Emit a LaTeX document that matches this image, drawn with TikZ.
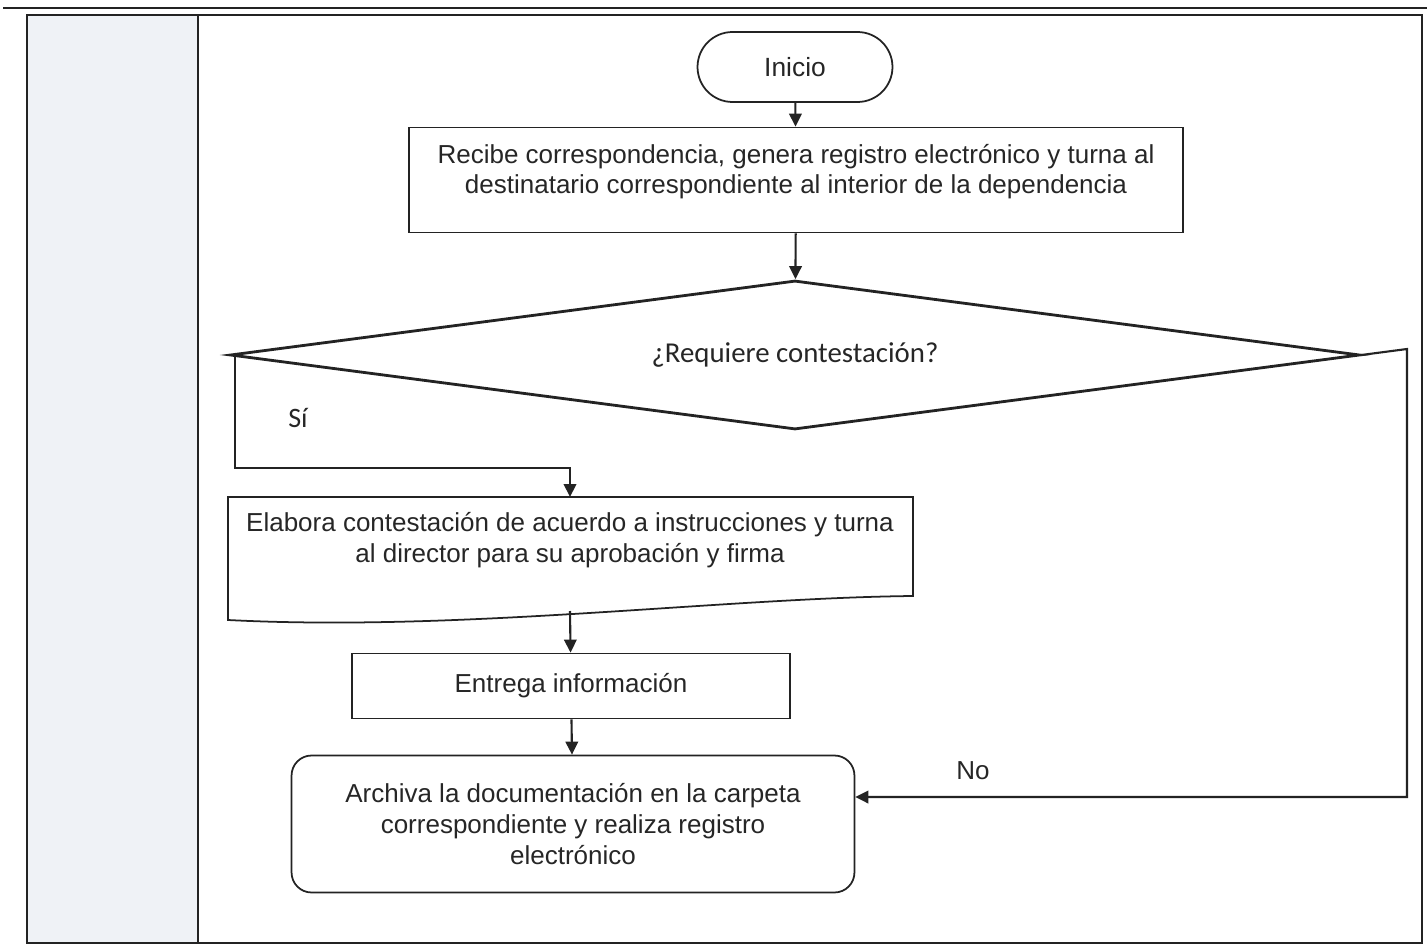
\documentclass[tikz,border=0pt]{standalone}
\usepackage{fontspec}
\setmainfont{Liberation Sans}
\newfontfamily\calibfont{Carlito}
\usetikzlibrary{arrows.meta,positioning,shapes.geometric,calc}

\definecolor{lineclr}{RGB}{35,35,35}
\definecolor{sideclr}{RGB}{239,242,246}

\begin{document}
\begin{tikzpicture}[x=0.02cm, y=-0.02cm,
    box/.style={draw=lineclr, line width=1pt, align=center, font=\fontsize{14.8}{17.5}\selectfont},
    term/.style={box, rounded corners=0.7cm, minimum width=3.9cm, minimum height=1.4cm, font=\fontsize{15}{18}\selectfont},
    decision/.style={diamond, aspect=7.6, draw=lineclr, line width=1.6pt, inner sep=0pt, minimum width=22.6cm, minimum height=2.98cm, font=\calibfont\fontsize{16.4}{19}\selectfont},
    doctext/.style={align=center, font=\fontsize{14.8}{17.5}\selectfont},
    lbl/.style={font=\fontsize{14.8}{17.5}\selectfont},
    arrow/.style={-{Triangle[length=2.6mm, width=2.5mm]}, line width=1.2pt, draw=lineclr},
    every node/.style={text=black!85}
]
\useasboundingbox (0,0) rectangle (1427,946);

% Frame and side column
\fill[sideclr] (27,15) rectangle (198,943);
\draw[lineclr, line width=1.3pt] (3,8) -- (1427,8);
\draw[lineclr, line width=1.3pt] (27,15) rectangle (1422,943);
\draw[lineclr, line width=1.3pt] (198,15) -- (198,943);

% Start and reception
\node[term] (inicio) at (795,67) {Inicio};
\node[box, minimum width=15.48cm, minimum height=2.1cm] (recibe) at (796,180) {Recibe correspondencia, genera registro electrónico y turna al\\destinatario correspondiente al interior de la dependencia\\[-5pt]};
\draw[arrow] (inicio) -- (recibe);

% Decision
\node[decision] (dec) at (795,355) {¿Requiere contestación?\\[-4pt]};
\draw[arrow] (recibe) -- (dec);

% Answer branch
\node[doctext] (elab) at (570,540) {Elabora contestación de acuerdo a instrucciones y turna\\al director para su aprobación y firma};
\draw[lineclr, line width=1pt] (228,497) -- (913,497) -- (913,596)
    .. controls (720,598) and (460,632) .. (228,620) -- cycle;
\coordinate (elabtop) at (570,497);
\coordinate (elabbot) at (570,611);
\coordinate (siturn) at (570,468);
\draw[arrow] ([xshift=0.12cm]dec.west) |- (siturn) -- (elabtop);
\node[lbl, font=\calibfont\fontsize{16}{19}\selectfont] (si) at (298,418) {Sí};

\node[box, minimum width=8.76cm, minimum height=1.3cm] (entrega) at (571,686) {Entrega información};
\draw[arrow] (elabbot) -- (entrega);

% Archive
\node[box, rounded corners=0.4cm, minimum width=11.26cm, minimum height=2.74cm] (archiva) at (573,824) {Archiva la documentación en la carpeta\\correspondiente y realiza registro\\electrónico};
\draw[arrow] (entrega) -- (archiva);

% No branch
\coordinate (noturn) at (1407,349);
\draw[arrow] (dec.east) -- (noturn) |- ([yshift=0.54cm]archiva.east);
\node[lbl] (no) at (973,771) {No};

\end{tikzpicture}
\end{document}
